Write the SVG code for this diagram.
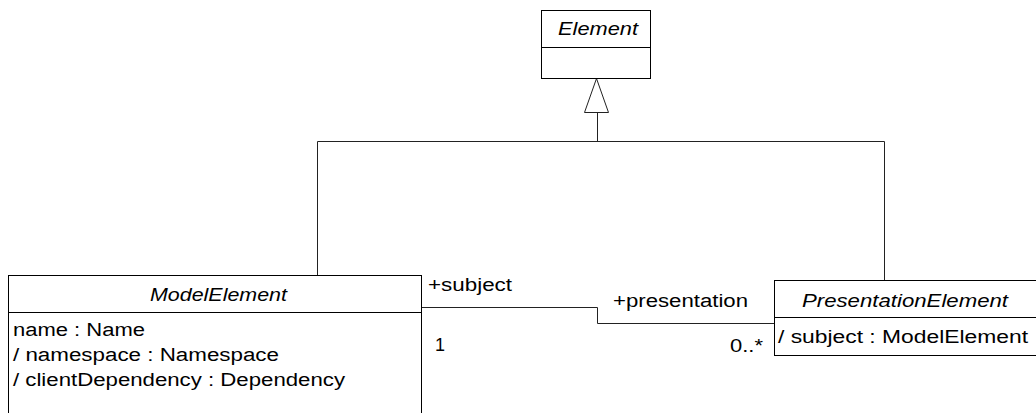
<svg xmlns="http://www.w3.org/2000/svg" width="1036" height="413" viewBox="0 0 1036 413">
<style>
.box{fill:#fff;stroke:#000;stroke-width:1}
.ln{fill:none;stroke:#222;stroke-width:1}
text{font-family:"Liberation Sans",Arial,sans-serif;font-size:18px;fill:#000}
.it{font-style:italic}
</style>
<rect width="1036" height="413" fill="#fff"/>
<g id="connectors">
<polyline class="ln" points="317.5,275.5 317.5,141.5 884.5,141.5 884.5,280.5"/>
<line class="ln" x1="597.5" y1="141.5" x2="597.5" y2="112"/>
<polygon points="596.5,78.5 584.5,112.5 608.5,112.5" fill="#fff" stroke="#222" stroke-width="1"/>
<polyline class="ln" points="421.5,307.5 597.5,307.5 597.5,323.5 774.5,323.5"/>
<text x="428" y="291" textLength="84" lengthAdjust="spacingAndGlyphs">+subject</text>
<text x="435" y="351">1</text>
<text x="613" y="307" textLength="135" lengthAdjust="spacingAndGlyphs">+presentation</text>
<text x="730" y="352" textLength="33" lengthAdjust="spacingAndGlyphs">0..*</text>
</g>
<g id="Element">
<rect class="box" x="541.5" y="10.5" width="109" height="68"/>
<line class="box" x1="541.5" y1="47.5" x2="650.5" y2="47.5"/>
<text class="it" x="558" y="35" textLength="80" lengthAdjust="spacingAndGlyphs">Element</text>
</g>
<g id="ModelElement">
<rect class="box" x="8.5" y="275.5" width="413" height="150"/>
<line class="box" x1="8.5" y1="312.5" x2="421.5" y2="312.5"/>
<text class="it" x="150" y="301" textLength="137" lengthAdjust="spacingAndGlyphs">ModelElement</text>
<text x="13" y="336" textLength="132" lengthAdjust="spacingAndGlyphs">name : Name</text>
<text x="13" y="361" textLength="266" lengthAdjust="spacingAndGlyphs">/ namespace : Namespace</text>
<text x="13" y="386" textLength="332" lengthAdjust="spacingAndGlyphs">/ clientDependency : Dependency</text>
</g>
<g id="PresentationElement">
<rect class="box" x="774.5" y="280.5" width="262" height="75"/>
<line class="box" x1="774.5" y1="317.5" x2="1036" y2="317.5"/>
<text class="it" x="802" y="307" textLength="206" lengthAdjust="spacingAndGlyphs">PresentationElement</text>
<text x="778" y="343" textLength="250" lengthAdjust="spacingAndGlyphs">/ subject : ModelElement</text>
</g>
</svg>
